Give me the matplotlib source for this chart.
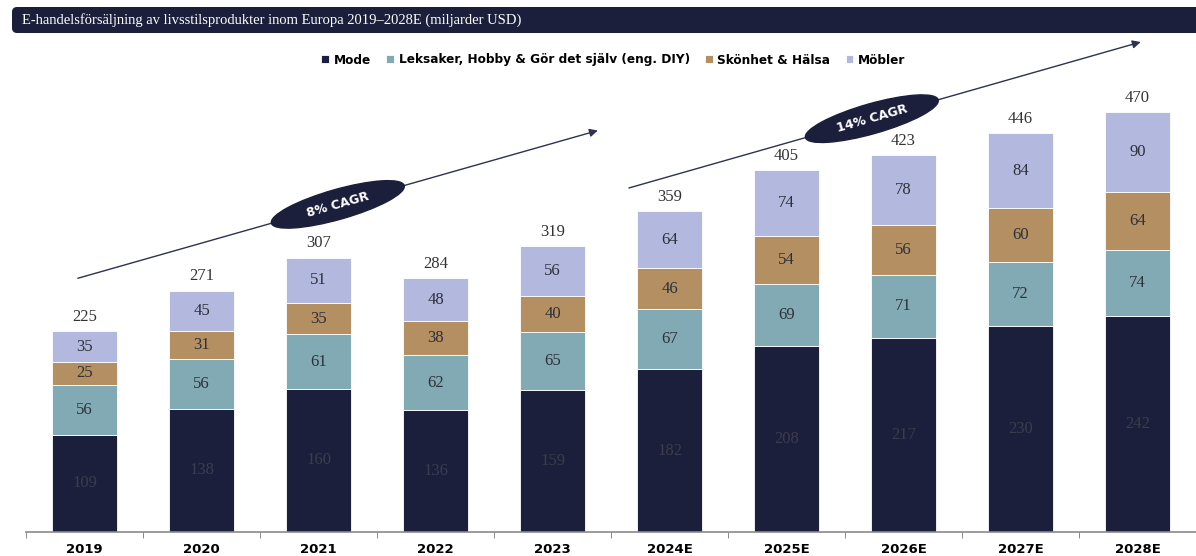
import matplotlib
matplotlib.use('Agg')
import matplotlib.pyplot as plt
import numpy as np
from matplotlib.patches import Ellipse, FancyBboxPatch
from matplotlib.transforms import ScaledTranslation, IdentityTransform

years = ['2019', '2020', '2021', '2022', '2023',
         '2024E', '2025E', '2026E', '2027E', '2028E']
mode = [109, 138, 160, 136, 159, 182, 208, 217, 230, 242]
leksaker = [56, 56, 61, 62, 65, 67, 69, 71, 72, 74]
skonhet = [25, 31, 35, 38, 40, 46, 54, 56, 60, 64]
mobler = [35, 45, 51, 48, 56, 64, 74, 78, 84, 90]
totals = [225, 271, 307, 284, 319, 359, 405, 423, 446, 470]

series = [
    ('Mode', mode, '#1b1f3b', '#3b3d4c'),
    ('Leksaker, Hobby & Gör det själv (eng. DIY)', leksaker, '#82aab4', '#2e3138'),
    ('Skönhet & Hälsa', skonhet, '#b38f62', '#2e3138'),
    ('Möbler', mobler, '#b3b9de', '#2e3138'),
]

# CAGR arrows: (start x, start y, end x, end y, label)
cagr = [
    (-0.08, 283, 4.41, 450, '8% CAGR'),
    (4.63, 384, 9.05, 549, '14% CAGR'),
]

num_font = 'Liberation Serif'
navy = '#1b1f3b'

fig = plt.figure(figsize=(11.96, 5.56), dpi=100)
ax = fig.add_axes([26 / 1196, 24 / 556, 1170 / 1196, 497 / 556])

x = np.arange(len(years))
bottom = np.zeros(len(years))
for name, vals, col, tcol in series:
    vals = np.array(vals)
    ax.bar(x, vals, 0.56, bottom=bottom, color=col, label=name,
           edgecolor='white', linewidth=0.6)
    for xi, b, v in zip(x, bottom, vals):
        ax.text(xi, b + v / 2, str(v), ha='center', va='center',
                fontsize=12, color=tcol, family=num_font)
    bottom = bottom + vals

for xi, b, t in zip(x, bottom, totals):
    ax.text(xi, b + 7, str(t), ha='center', va='bottom',
            fontsize=12, color='#333333', family=num_font)

ax.set_xlim(-0.5, len(years) - 0.5)
ax.set_ylim(0, 556)
ax.set_xticks(x)
ax.set_xticklabels(years, fontsize=9.5, fontweight='bold', family='DejaVu Sans')
ax.tick_params(axis='x', which='major', length=0, pad=8)
ax.set_xticks(np.arange(-0.5, len(years)), minor=True)
ax.tick_params(axis='x', which='minor', length=4, color='#777777', direction='out')
ax.set_yticks([])
for s in ['top', 'right', 'left']:
    ax.spines[s].set_visible(False)
ax.spines['bottom'].set_color('#8a8a8a')
ax.spines['bottom'].set_linewidth(1.2)

# CAGR arrows with ellipse labels
for x0, y0, x1, y1, lab in cagr:
    ax.annotate('', xy=(x1, y1), xytext=(x0, y0),
                arrowprops=dict(arrowstyle='-|>', color='#2d3250', lw=1.0,
                                mutation_scale=12), zorder=4)
    p0 = ax.transData.transform((x0, y0))
    p1 = ax.transData.transform((x1, y1))
    ang = np.degrees(np.arctan2(p1[1] - p0[1], p1[0] - p0[0]))
    t = 0.5 if lab.startswith('8') else 0.475
    cx = x0 + t * (x1 - x0)
    cy = y0 + t * (y1 - y0)
    tr = fig.dpi_scale_trans + ScaledTranslation(cx, cy, ax.transData)
    ell = Ellipse((0, 0), 1.38, 0.30, angle=ang, transform=tr,
                  facecolor=navy, edgecolor=navy, zorder=5)
    ax.add_patch(ell)
    ax.text(cx, cy, lab, rotation=ang, rotation_mode='anchor',
            ha='center', va='center', color='white', fontsize=9,
            fontweight='bold', zorder=6)

# Title bar
box = FancyBboxPatch((12, 556 - 33), 1200, 26,
                     boxstyle='round,pad=0,rounding_size=5',
                     transform=IdentityTransform(), facecolor=navy,
                     edgecolor='none')
fig.patches.append(box)
fig.text(22 / 1196, 1 - 20 / 556,
         'E-handelsförsäljning av livsstilsprodukter inom Europa 2019–2028E (miljarder USD)',
         ha='left', va='center', color='white', fontsize=10.5, family=num_font)

fig.legend(loc='center', bbox_to_anchor=(0.513, 1 - 60 / 556), ncol=4,
           frameon=False, handlelength=0.6, handleheight=0.6,
           handletextpad=0.4, columnspacing=1.3,
           prop=dict(size=8.7, weight='bold', family='DejaVu Sans'))

plt.savefig('out.png', dpi=100)
